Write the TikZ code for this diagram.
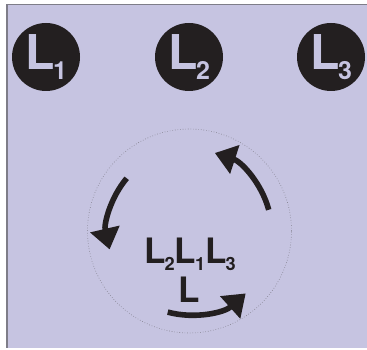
\documentclass[tikz,border=0pt]{standalone}
\usepackage{fontspec}
\setmainfont{TeX Gyre Heros}
\usetikzlibrary{arrows.meta}
\definecolor{lavender}{HTML}{C6C4E1}
\definecolor{ink}{HTML}{231F20}
\definecolor{rim}{HTML}{7E7D88}
\newcommand{\Lsub}[1]{L\kern-.03em\raisebox{-.2em}{\scalebox{.52}{#1}}}
\tikzset{
  phase/.style={circle,fill=ink,text=lavender,minimum size=68pt,inner sep=0pt,font=\fontsize{48}{48}\selectfont\bfseries},
  label/.style={text=ink,inner sep=0pt,font=\fontsize{35}{35}\selectfont\bfseries},
  turn/.style={ink,line width=5.6pt,-{Triangle[length=21pt,width=29pt]}}
}
\begin{document}
\begin{tikzpicture}[x=1pt,y=1pt]
    \useasboundingbox (0,0) rectangle (367,350);
    \fill[lavender] (8,2) rectangle (367,345);
    \draw[rim,line width=1.6pt] (7,2)--(7,345.5)--(367,345.5);
    % the three phases
    \node[phase] (l1) at (46,293) {\Lsub{1}};
    \node[phase] (l2) at (189,293) {\Lsub{2}};
    \node[phase] (l3) at (331,293) {\Lsub{3}};
    % rotation ring
    \node[circle,draw=rim,dotted,line width=.6pt,minimum size=204pt,inner sep=0pt] (ring) at (189.5,119) {};
    \draw[turn] ([shift={(140:82)}]ring.center) arc[start angle=140,end angle=193,radius=82];
    \draw[turn] ([shift={(15:82)}]ring.center) arc[start angle=15,end angle=72,radius=82];
    \draw[turn] ([shift={(255:84)}]ring.center) arc[start angle=255,end angle=312,radius=84];
    \node[label] (order) at (190,96) {\Lsub{2}\Lsub{1}\Lsub{3}};
    \node[label] (seq) at (189.5,60.5) {L};
\end{tikzpicture}
\end{document}
